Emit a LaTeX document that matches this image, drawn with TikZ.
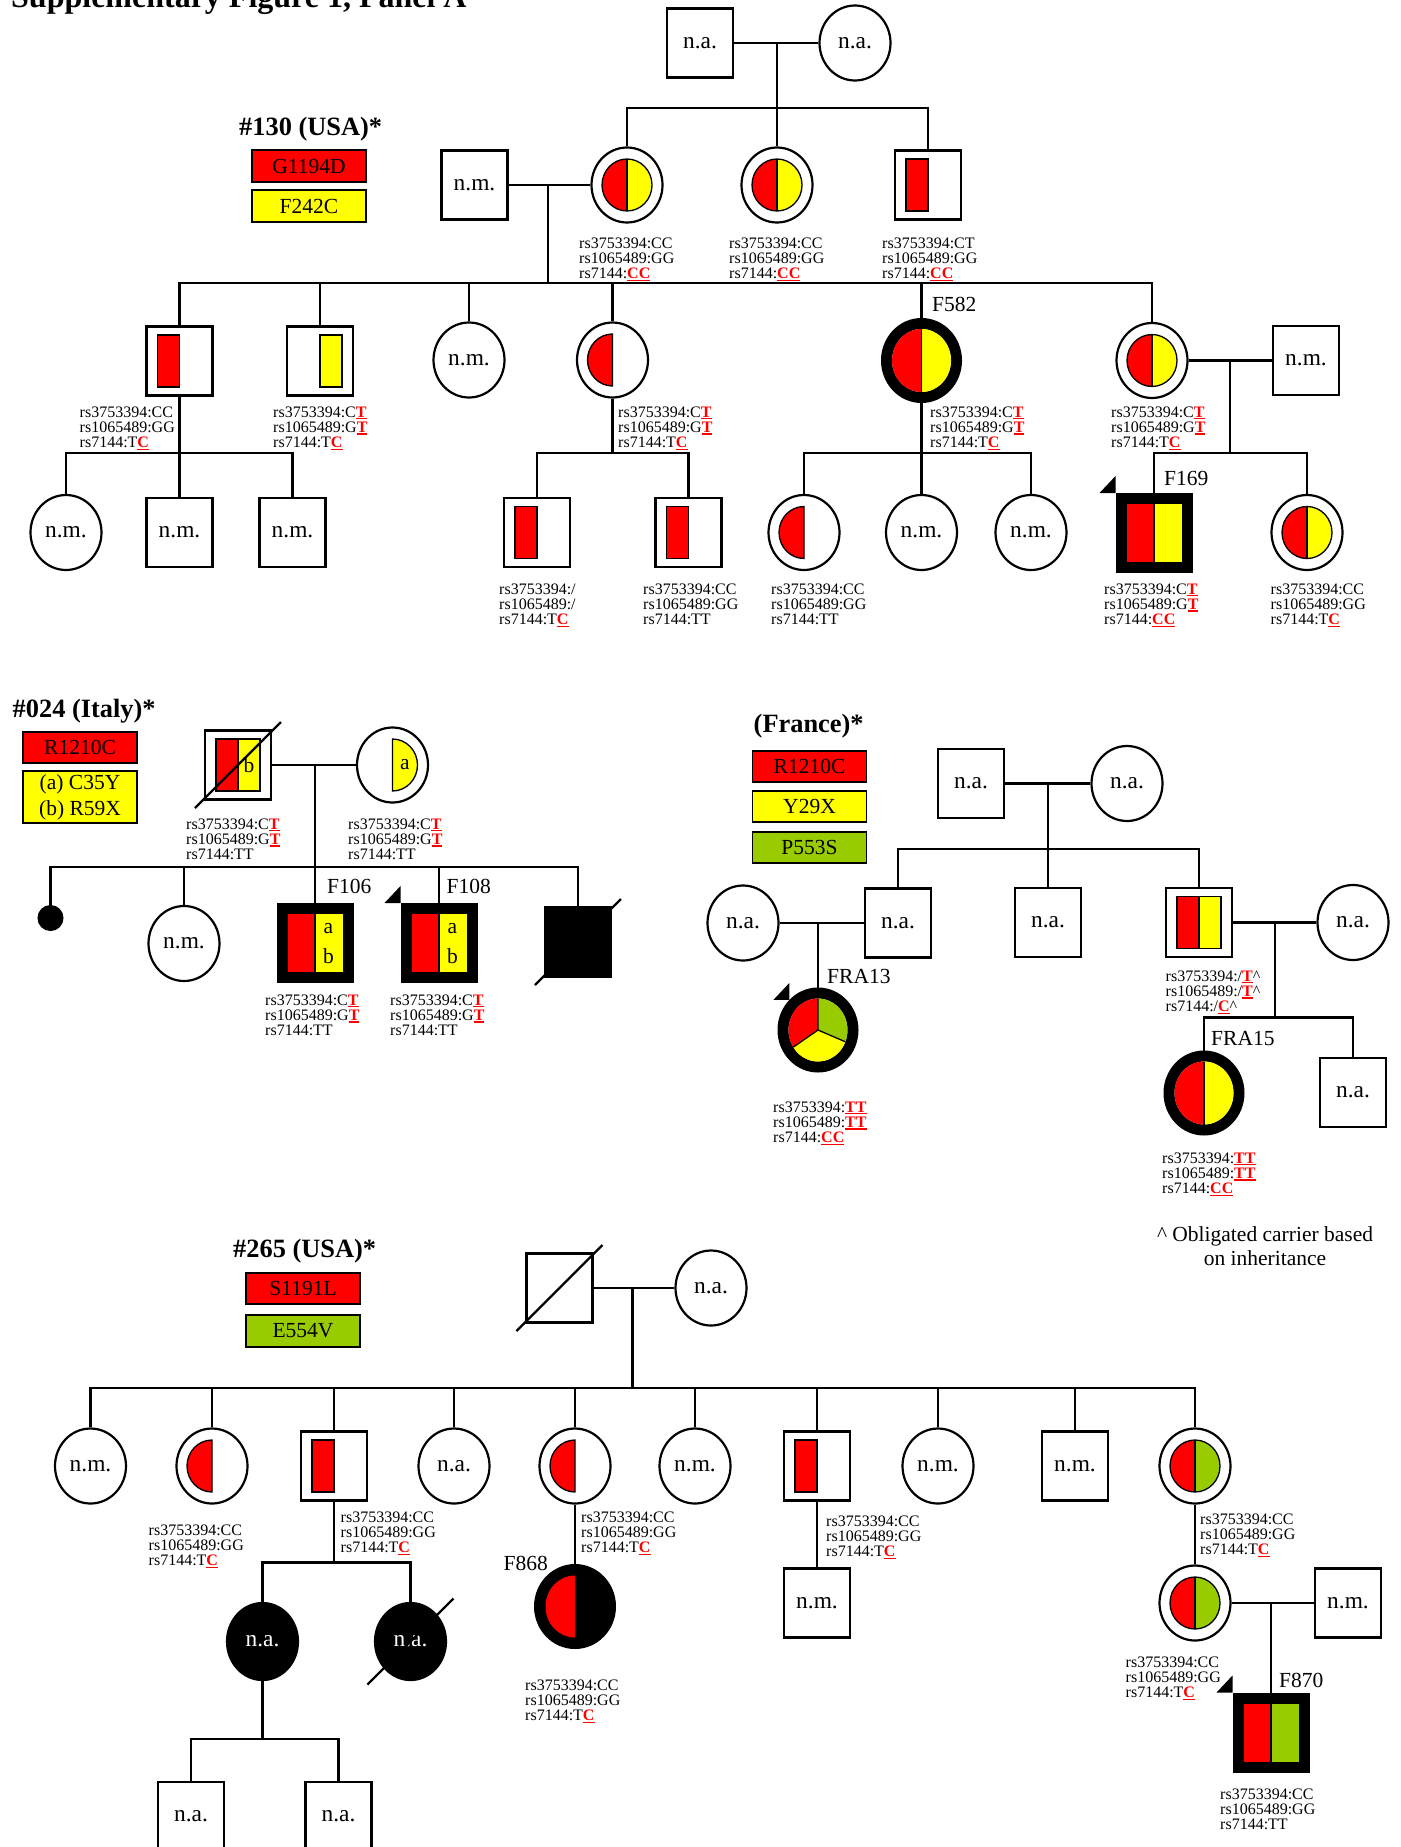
\documentclass[tikz,border=0pt]{standalone}
\usepackage{fontspec}
\setmainfont{Liberation Serif}
\usetikzlibrary{shapes.geometric}
\definecolor{mutR}{HTML}{FF0000}
\definecolor{mutY}{HTML}{FFFF00}
\definecolor{mutG}{HTML}{99CC00}

% font sizes
\newcommand\gtfont{\fontsize{16}{15.4}\selectfont}
\newcommand\nmfont{\fontsize{23.4}{24}\selectfont}
\newcommand\idfont{\fontsize{21.5}{22}\selectfont}
\newcommand\legfont{\fontsize{21.5}{26}\selectfont}
\newcommand\hdfont{\fontsize{26.4}{28}\selectfont\bfseries}
\newcommand\ttlfont{\fontsize{32}{34}\selectfont\bfseries}

% risk allele: red, bold, underlined
\newcommand\rv[1]{{\color{red}\bfseries\setbox0=\hbox{#1}\rlap{\rule[-2.3pt]{\wd0}{1.5pt}}\box0}}
% three genotype lines
\newcommand\gtx[3]{\vtop{\hbox{rs3753394:#1}\hbox{rs1065489:#2}\hbox{rs7144:#3}}}

% drawing inside a symbol, relative to its centre
\newcommand\inside[2]{\begin{scope}[shift={(#1.center)}]#2\end{scope}}
\newcommand\discLR[2]{%
  \fill[#1] (0,-26) arc[start angle=270,end angle=90,x radius=25,y radius=26] -- cycle;
  \fill[#2] (0,-26) arc[start angle=-90,end angle=90,x radius=25,y radius=26] -- cycle;
  \draw[inl] (0,0) ellipse[x radius=25,y radius=26];
  \draw[inl] (0,-26) -- (0,26);}
\newcommand\discL[1]{\filldraw[inl,fill=#1] (0,-26) arc[start angle=270,end angle=90,x radius=25,y radius=26] -- cycle;}
\newcommand\discR[1]{\filldraw[inl,fill=#1] (0,-26) arc[start angle=-90,end angle=90,x radius=25,y radius=26] -- cycle;}
\newcommand\barL[1]{\filldraw[inl,fill=#1] (-22,-26) rectangle (0,26);}
\newcommand\barR[1]{\filldraw[inl,fill=#1] (0,-26) rectangle (22,26);}
\newcommand\fullSq[2]{%
  \fill[#1] (-27.5,-29) rectangle (0,29);
  \fill[#2] (0,-29) rectangle (27.5,29);
  \draw[inl] (0,-29) -- (0,29);}
\newcommand\fullDisc[2]{%
  \fill[#1] (0,-31.5) arc[start angle=270,end angle=90,x radius=29.5,y radius=31.5] -- cycle;
  \fill[#2] (0,-31.5) arc[start angle=-90,end angle=90,x radius=29.5,y radius=31.5] -- cycle;
  \draw[inl] (0,-31.5) -- (0,31.5);}
\newcommand\deadmark{\draw[ln] (-43,43) -- (43,-43);}
\newcommand\proband[1]{\fill (#1.north west) -- ++(0,-17) -- ++(-16,17) -- cycle;}

\begin{document}
\begin{tikzpicture}[x=1pt,y=-1pt,
  ln/.style={line width=2.2pt},
  inl/.style={line width=1.3pt},
  sym/.style={draw,line width=2.2pt,inner sep=0pt,font=\nmfont},
  sq/.style={sym,rectangle,minimum width=66pt,minimum height=69pt},
  ci/.style={sym,ellipse,minimum width=71pt,minimum height=75pt},
  asq/.style={sq,line width=11pt},
  aci/.style={sym,ellipse,line width=11pt,minimum width=70pt,minimum height=74pt},
  gt/.style={anchor=base west,inner sep=0pt,font=\gtfont},
  idl/.style={anchor=base west,inner sep=0pt,font=\idfont},
  hd/.style={anchor=base west,inner sep=0pt,font=\hdfont},
  leg/.style={draw,line width=1.5pt,minimum width=114pt,minimum height=31pt,inner sep=0pt,font=\legfont,align=center},
  ltr/.style={inner sep=0pt,font=\idfont}]
\fill[white] (0,0) rectangle (1400,1847);
\useasboundingbox (0,0) rectangle (1400,1847);

\node[anchor=base west,inner sep=0pt,font=\ttlfont] (ttl) at (11,8) {Supplementary Figure 1, Panel A};

% ================= family #130 =================
\node[hd] (h130) at (239,135) {\#130 (USA)*};
\node[leg,fill=mutR,minimum height=32pt] (k130a) at (309,166) {G1194D};
\node[leg,fill=mutY,minimum height=32pt] (k130b) at (309,206) {F242C};

\node[sq] (t1) at (700,43) {n.a.};
\node[ci] (t2) at (855,43) {n.a.};
\node[ci] (a1) at (627,185) {};
\node[ci] (a2) at (777,185) {};
\node[sq] (a3) at (928,185) {};
\node[sq] (h1) at (474.5,185) {n.m.};
\inside{a1}{\discLR{mutR}{mutY}}
\inside{a2}{\discLR{mutR}{mutY}}
\inside{a3}{\barL{mutR}}
\coordinate (t12) at (777,43);
\coordinate (sA) at (777,108);
\draw[ln] (t1) -- (t2);
\draw[ln] (t12) -- (a2.north);
\draw[ln] (a1.north) |- (sA) -| (a3.north);
\node[gt] (ga1) at (579,248) {\gtx{CC}{GG}{\rv{CC}}};
\node[gt] (ga2) at (729,248) {\gtx{CC}{GG}{\rv{CC}}};
\node[gt] (ga3) at (882,248) {\gtx{CT}{GG}{\rv{CC}}};

\node[sq] (b1) at (179.5,361) {};
\node[sq] (b2) at (320,361) {};
\node[ci] (b3) at (469,360) {n.m.};
\node[ci] (b4) at (612.5,360) {};
\node[aci] (b5) at (921.5,360.5) {};
\node[ci] (b6) at (1152,360.5) {};
\node[sq] (s6) at (1306,360.5) {n.m.};
\inside{b1}{\barL{mutR}}
\inside{b2}{\barR{mutY}}
\inside{b4}{\discL{mutR}}
\inside{b5}{\fullDisc{mutR}{mutY}}
\inside{b6}{\discLR{mutR}{mutY}}
\coordinate (hA) at (548,185);
\coordinate (sB) at (548,283);
\draw[ln] (h1) -- (a1);
\draw[ln] (hA) -- (sB);
\draw[ln] (b1.north) |- (sB) -| (b6.north);
\foreach \n in {b2,b3,b4,b5} \draw[ln] (\n.north) -- (\n.north |- sB);
\node[idl] (lF582) at (932,311) {F582};
\node[gt] (gb1) at (79.5,417) {\gtx{CC}{GG}{T\rv{C}}};
\node[gt] (gb2) at (273,417) {\gtx{C\rv{T}}{G\rv{T}}{T\rv{C}}};
\node[gt] (gb4) at (618,417) {\gtx{C\rv{T}}{G\rv{T}}{T\rv{C}}};
\node[gt] (gb5) at (930,417) {\gtx{C\rv{T}}{G\rv{T}}{T\rv{C}}};
\node[gt] (gb6) at (1111,417) {\gtx{C\rv{T}}{G\rv{T}}{T\rv{C}}};

% generation III
\node[ci] (c1) at (66,532.5) {n.m.};
\node[sq] (c2) at (179.5,532.5) {n.m.};
\node[sq] (c3) at (292.5,532.5) {n.m.};
\coordinate (sC) at (179.5,453);
\draw[ln] (b1.south) -- (sC);
\draw[ln] (c1.north) |- (sC) -| (c3.north);
\draw[ln] (c2.north) -- (c2.north |- sC);

\node[sq] (c4) at (537,532.5) {};
\node[sq] (c5) at (688.5,532.5) {};
\inside{c4}{\barL{mutR}}
\inside{c5}{\barL{mutR}}
\coordinate (sD) at (612.5,453);
\draw[ln] (b4.south) -- (sD);
\draw[ln] (c4.north) |- (sD) -| (c5.north);

\node[ci] (c6) at (804,532.5) {};
\node[ci] (c7) at (921.5,532.5) {n.m.};
\node[ci] (c8) at (1031,532.5) {n.m.};
\inside{c6}{\discL{mutR}}
\coordinate (sE) at (921.5,453);
\draw[ln] (b5.south) -- (c7.north);
\draw[ln] (c6.north) |- (sE) -| (c8.north);

\node[asq] (c9) at (1154,533) {};
\node[ci] (c10) at (1307,532.5) {};
\inside{c9}{\fullSq{mutR}{mutY}}
\inside{c10}{\discLR{mutR}{mutY}}
\proband{c9}
\coordinate (m6) at (1230,360.5);
\coordinate (sF) at (1230,453);
\draw[ln] (b6) -- (s6);
\draw[ln] (m6) -- (sF);
\draw[ln] (c9.north) |- (sF) -| (c10.north);
\node[idl] (lF169) at (1164,485) {F169};

\node[gt] (gc4) at (499,594) {\gtx{/}{/}{T\rv{C}}};
\node[gt] (gc5) at (643,594) {\gtx{CC}{GG}{TT}};
\node[gt] (gc6) at (771,594) {\gtx{CC}{GG}{TT}};
\node[gt] (gc9) at (1104,594) {\gtx{C\rv{T}}{G\rv{T}}{\rv{CC}}};
\node[gt] (gc10) at (1270.5,594) {\gtx{CC}{GG}{T\rv{C}}};

% ================= family #024 =================
\node[hd] (h024) at (12.5,717) {\#024 (Italy)*};
\node[leg,fill=mutR] (k24a) at (80,747.5) {R1210C};
\node[leg,fill=mutY,minimum height=52pt] (k24b) at (80,797) {(a) C35Y\\(b) R59X};

\node[sq] (f1) at (238,765) {};
\node[ci] (m1) at (392.5,765) {};
\inside{f1}{\barL{mutR}\barR{mutY}}
\node[ltr] (f1b) at (249,765) {b};
\inside{f1}{\deadmark}
\inside{m1}{\discR{mutY}}
\node[ltr] (m1a) at (405,765) {a};
\coordinate (mI) at (315,765);
\coordinate (sI) at (315,867);
\draw[ln] (f1) -- (m1);
\draw[ln] (mI) -- (sI);

\node[draw,circle,fill=black,minimum size=25pt,inner sep=0pt,line width=1pt] (d1) at (50.5,918) {};
\node[ci] (d2) at (184,943.5) {n.m.};
\node[asq] (d3) at (315,943) {};
\node[asq] (d4) at (439,943) {};
\node[sq,fill=black] (d5) at (578,942) {};
\inside{d3}{\fullSq{mutR}{mutY}}
\inside{d4}{\fullSq{mutR}{mutY}}
\inside{d5}{\deadmark}
\node[ltr] (d3a) at (328.5,929) {a};
\node[ltr] (d3b) at (328.5,956) {b};
\node[ltr] (d4a) at (452.5,929) {a};
\node[ltr] (d4b) at (452.5,956) {b};
\proband{d4}
\draw[ln] (d1.north) |- (sI) -| (d5.north);
\foreach \n in {d2,d3,d4} \draw[ln] (\n.north) -- (\n.north |- sI);
\node[idl] (lF106) at (327,893) {F106};
\node[idl] (lF108) at (446.5,893) {F108};
\node[gt] (gf1) at (186,829) {\gtx{C\rv{T}}{G\rv{T}}{TT}};
\node[gt] (gm1) at (348,829) {\gtx{C\rv{T}}{G\rv{T}}{TT}};
\node[gt] (gd3) at (265,1005) {\gtx{C\rv{T}}{G\rv{T}}{TT}};
\node[gt] (gd4) at (390,1005) {\gtx{C\rv{T}}{G\rv{T}}{TT}};

% ================= family (France) =================
\node[hd] (hFR) at (753.5,732) {(France)*};
\node[leg,fill=mutR] (kfa) at (809.5,766.5) {R1210C};
\node[leg,fill=mutY] (kfb) at (809.5,806.5) {Y29X};
\node[leg,fill=mutG] (kfc) at (809.5,847.5) {P553S};

\node[sq] (g1) at (971,783.5) {n.a.};
\node[ci] (g2) at (1127,783.5) {n.a.};
\coordinate (mF) at (1048,783.5);
\coordinate (sFr) at (1048,849);
\draw[ln] (g1) -- (g2);
\node[ci] (k0) at (743,923) {n.a.};
\node[sq] (k1) at (898,923) {n.a.};
\node[sq] (k2) at (1048,922.5) {n.a.};
\node[sq] (k3) at (1199,922.5) {};
\node[ci] (k4) at (1353,922.5) {n.a.};
\inside{k3}{\barL{mutR}\barR{mutY}}
\draw[ln] (mF) -- (k2.north);
\draw[ln] (k1.north) |- (sFr) -| (k3.north);
\draw[ln] (k0) -- (k1);
\draw[ln] (k3) -- (k4);

\node[aci] (fra13) at (818,1030) {};
\inside{fra13}{%
  \fill[mutR] (0,0) -- (147:29.5 and 31.5) arc[start angle=147,end angle=270,x radius=29.5,y radius=31.5] -- cycle;
  \fill[mutG] (0,0) -- (270:29.5 and 31.5) arc[start angle=270,end angle=382,x radius=29.5,y radius=31.5] -- cycle;
  \fill[mutY] (0,0) -- (22:29.5 and 31.5) arc[start angle=22,end angle=147,x radius=29.5,y radius=31.5] -- cycle;
  \draw[inl] (0,0) -- (147:29.5 and 31.5) (0,0) -- (270:29.5 and 31.5) (0,0) -- (22:29.5 and 31.5);}
\proband{fra13}
\coordinate (mK1) at (818,923);
\draw[ln] (mK1) -- (fra13.north);
\node[idl] (lFRA13) at (827,983) {FRA13};

\node[aci] (fra15) at (1204,1093) {};
\node[sq] (k6) at (1353,1092.5) {n.a.};
\inside{fra15}{\fullDisc{mutR}{mutY}}
\coordinate (mK3) at (1275,922.5);
\coordinate (sK3) at (1275,1017.5);
\draw[ln] (mK3) -- (sK3);
\draw[ln] (fra15.north) |- (sK3) -| (k6.north);
\node[idl] (lFRA15) at (1211,1045) {FRA15};

\node[gt] (gk3) at (1165.5,981) {\gtx{/\rv{T}\textasciicircum}{/\rv{T}\textasciicircum}{/\rv{C}\textasciicircum}};
\node[gt] (gfra13) at (773,1112) {\gtx{\rv{TT}}{\rv{TT}}{\rv{CC}}};
\node[gt] (gfra15) at (1162,1163) {\gtx{\rv{TT}}{\rv{TT}}{\rv{CC}}};
\node[anchor=base,inner sep=0pt,font=\idfont] (note1) at (1265,1241) {\textasciicircum{} Obligated carrier based};
\node[anchor=base,inner sep=0pt,font=\idfont] (note2) at (1265,1265) {on inheritance};

% ================= family #265 =================
\node[hd] (h265) at (233,1257.5) {\#265 (USA)*};
\node[leg,fill=mutR] (k265a) at (303,1288.5) {S1191L};
\node[leg,fill=mutG,minimum height=32pt] (k265b) at (303,1331) {E554V};

\node[sq] (p1) at (559.5,1288) {};
\node[ci] (p2) at (711,1288) {n.a.};
\inside{p1}{\deadmark}
\coordinate (mP) at (632.5,1288);
\coordinate (sP) at (632.5,1388);
\draw[ln] (p1) -- (p2);
\draw[ln] (mP) -- (sP);

\node[ci] (q1) at (90.5,1466) {n.m.};
\node[ci] (q2) at (212,1466) {};
\node[sq] (q3) at (334,1466) {};
\node[ci] (q4) at (454,1466) {n.a.};
\node[ci] (q5) at (575,1466) {};
\node[ci] (q6) at (695,1466) {n.m.};
\node[sq] (q7) at (817,1466) {};
\node[ci] (q8) at (938,1466) {n.m.};
\node[sq] (q9) at (1075,1466) {n.m.};
\node[ci] (q10) at (1195,1466) {};
\inside{q2}{\discL{mutR}}
\inside{q3}{\barL{mutR}}
\inside{q5}{\discL{mutR}}
\inside{q7}{\barL{mutR}}
\inside{q10}{\discLR{mutR}{mutG}}
\draw[ln] (q1.north) |- (sP) -| (q10.north);
\foreach \n in {q2,q3,q4,q5,q6,q7,q8,q9} \draw[ln] (\n.north) -- (\n.north |- sP);
\node[gt] (gq2) at (148.5,1535) {\gtx{CC}{GG}{T\rv{C}}};
\node[gt] (gq3) at (340.5,1522) {\gtx{CC}{GG}{T\rv{C}}};
\node[gt] (gq5) at (581,1522) {\gtx{CC}{GG}{T\rv{C}}};
\node[gt] (gq7) at (826,1526) {\gtx{CC}{GG}{T\rv{C}}};
\node[gt] (gq10) at (1200,1524) {\gtx{CC}{GG}{T\rv{C}}};

% children of q3
\node[ci,fill=black,text=white,minimum height=77pt] (r1) at (262.5,1641.5) {n.a.};
\node[ci,fill=black,text=white,minimum height=77pt] (r2) at (410.5,1641.5) {n.a.};
\inside{r2}{\deadmark}
\coordinate (sQ3) at (334,1562.5);
\draw[ln] (q3.south) -- (sQ3);
\draw[ln] (r1.north) |- (sQ3) -| (r2.north);
\node[sq] (u1) at (191,1816.5) {n.a.};
\node[sq] (u2) at (338.5,1816.5) {n.a.};
\coordinate (sR1) at (262.5,1739);
\draw[ln] (r1.south) -- (sR1);
\draw[ln] (u1.north) |- (sR1) -| (u2.north);

% child of q5
\node[sym,ellipse,fill=black,minimum width=82pt,minimum height=85pt,line width=0pt,draw=none] (f868) at (575,1606.5) {};
\inside{f868}{\fill[mutR] (0,-31) arc[start angle=270,end angle=90,x radius=29.5,y radius=31] -- cycle;}
\draw[ln] (q5.south) -- (f868.north);
\node[idl] (lF868) at (503.5,1570.5) {F868};
\node[gt] (gf868) at (525,1690) {\gtx{CC}{GG}{T\rv{C}}};

% child of q7
\node[sq] (q7c) at (817,1603) {n.m.};
\draw[ln] (q7.south) -- (q7c.north);

% descendants of q10
\node[ci] (q10c) at (1195,1603) {};
\node[sq] (q10s) at (1348,1603) {n.m.};
\inside{q10c}{\discLR{mutR}{mutG}}
\draw[ln] (q10.south) -- (q10c.north);
\draw[ln] (q10c) -- (q10s);
\node[asq] (f870) at (1271,1732.5) {};
\inside{f870}{\fullSq{mutR}{mutG}}
\proband{f870}
\coordinate (mQ10) at (1271,1603);
\draw[ln] (mQ10) -- (f870.north);
\node[idl] (lF870) at (1279,1687) {F870};
\node[gt] (gq10c) at (1125.5,1667) {\gtx{CC}{GG}{T\rv{C}}};
\node[gt] (gf870) at (1220,1799) {\gtx{CC}{GG}{TT}};
\end{tikzpicture}
\end{document}
